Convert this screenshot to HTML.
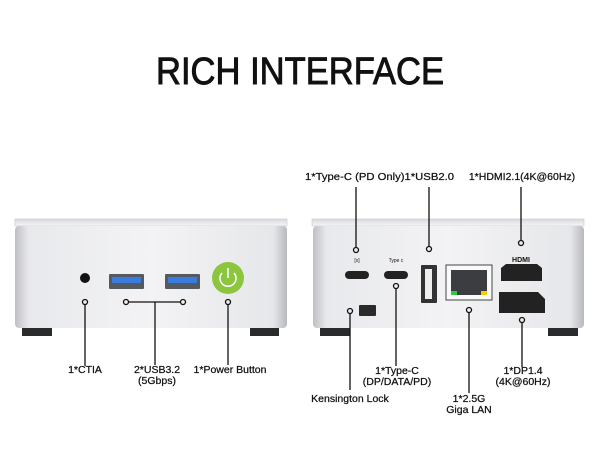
<!DOCTYPE html>
<html><head><style>body{margin:0;background:#fff}svg{display:block}text{font-family:"Liberation Sans",sans-serif;fill:#111}</style></head><body>
<svg width="600" height="450" xmlns="http://www.w3.org/2000/svg">
<defs>
<linearGradient id="b" x1="0" x2="1" y1="0" y2="0"><stop offset="0" stop-color="#bfc0c4"/><stop offset=".05" stop-color="#e8e9ec"/><stop offset=".5" stop-color="#f3f3f5"/><stop offset=".95" stop-color="#e6e7ea"/><stop offset="1" stop-color="#b8b9bd"/></linearGradient>
<linearGradient id="t" x1="0" x2="0" y1="0" y2="1"><stop offset="0" stop-color="#d8d9dc"/><stop offset="1" stop-color="#f6f6f7"/></linearGradient>
</defs>
<text x="300" y="84" font-size="38" text-anchor="middle" textLength="288" lengthAdjust="spacingAndGlyphs" stroke="#111" stroke-width="0.9">RICH INTERFACE</text>
<!-- left device -->
<rect x="15" y="219" width="272" height="7" fill="url(#t)" stroke="#c8c9cc" stroke-width=".6"/>
<rect x="15" y="226" width="272" height="102" rx="4" fill="url(#b)"/>
<rect x="22" y="328" width="30" height="8" fill="#2a2b2d"/><rect x="250" y="328" width="29" height="8" fill="#2a2b2d"/>
<circle cx="85" cy="278" r="5" fill="#111"/>
<rect x="109" y="274" width="35" height="15" rx="1" fill="#555a60"/><rect x="112" y="277" width="29" height="6" fill="#3a7be0"/>
<rect x="165" y="274" width="35" height="15" rx="1" fill="#555a60"/><rect x="168" y="277" width="29" height="6" fill="#3a7be0"/>
<circle cx="228" cy="278" r="16" fill="#8cc63f"/>
<path d="M222 273 a8 8 0 1 0 12 0" fill="none" stroke="#fff" stroke-width="1.5"/><line x1="228" y1="268" x2="228" y2="278" stroke="#fff" stroke-width="1.5"/>
<g stroke="#111" stroke-width="1.3" fill="none">
<circle cx="85" cy="302" r="2.5"/><circle cx="126" cy="302" r="2.5"/><circle cx="183" cy="302" r="2.5"/><circle cx="228" cy="302" r="2.5"/>
<line x1="85" y1="305" x2="85" y2="366"/><line x1="129" y1="302" x2="180" y2="302"/><line x1="155" y1="302" x2="155" y2="365"/><line x1="228" y1="305" x2="228" y2="365"/>
</g>
<g stroke="#111" stroke-width="0.25">
<text x="85" y="373" font-size="10.5" text-anchor="middle">1*CTIA</text>
<text x="157" y="373" font-size="10.5" text-anchor="middle">2*USB3.2</text>
<text x="157" y="384" font-size="10.5" text-anchor="middle">(5Gbps)</text>
<text x="230" y="373" font-size="10.5" text-anchor="middle">1*Power Button</text>
</g>
<!-- right device -->
<rect x="312" y="219" width="272" height="7" fill="url(#t)" stroke="#c8c9cc" stroke-width=".6"/>
<rect x="313" y="226" width="271" height="102" rx="4" fill="url(#b)"/>
<rect x="320" y="328" width="30" height="8" fill="#2a2b2d"/><rect x="548" y="328" width="30" height="8" fill="#2a2b2d"/>
<rect x="345" y="271" width="24" height="8" rx="4" fill="#222"/>
<rect x="384" y="271" width="24" height="8" rx="4" fill="#222"/>
<rect x="421" y="265" width="16" height="38" rx="1" fill="#333"/><rect x="425" y="269" width="7" height="30" fill="#eee"/>
<rect x="446" y="265" width="46" height="35" fill="#fafafa" stroke="#444"/><rect x="451" y="270" width="36" height="25" fill="#3b3d40"/>
<rect x="451" y="291" width="6" height="4" fill="#2ecc40"/><rect x="481" y="291" width="6" height="4" fill="#f5d000"/>
<path d="M501 268 l5 -4 h31 l5 4 v13 h-41z" fill="#222"/>
<path d="M499 292 h39 l7 7 v14 h-46z" fill="#222"/>
<rect x="359" y="305" width="17" height="11" rx="1" fill="#2a2a2a"/>
<text x="521" y="262" font-size="7" font-weight="bold" text-anchor="middle" fill="#333">HDMI</text>
<text x="357" y="262" font-size="5" text-anchor="middle" fill="#888">[x]</text>
<text x="396" y="262" font-size="5" text-anchor="middle" fill="#888">Type c</text>
<g stroke="#111" stroke-width="1.3" fill="none">
<circle cx="356" cy="250" r="2.5"/><line x1="356" y1="187" x2="356" y2="247"/>
<circle cx="429" cy="249" r="2.5"/><line x1="429" y1="187" x2="429" y2="246"/>
<circle cx="521" cy="243" r="2.5"/><line x1="521" y1="187" x2="521" y2="240"/>
<circle cx="396" cy="286" r="2.5"/><line x1="396" y1="289" x2="396" y2="366"/>
<circle cx="350" cy="311" r="2.5"/><line x1="350" y1="314" x2="350" y2="390"/>
<circle cx="469" cy="310" r="2.5"/><line x1="469" y1="313" x2="469" y2="393"/>
<circle cx="522" cy="320" r="2.5"/><line x1="522" y1="323" x2="522" y2="367"/>
</g>
<g stroke="#111" stroke-width="0.25">
<text x="305" y="180" font-size="10.5" textLength="149" lengthAdjust="spacingAndGlyphs">1*Type-C (PD Only)1*USB2.0</text>
<text x="522" y="180" font-size="10.5" text-anchor="middle">1*HDMI2.1(4K@60Hz)</text>
<text x="397" y="374" font-size="10.5" text-anchor="middle">1*Type-C</text>
<text x="397" y="385" font-size="10.5" text-anchor="middle">(DP/DATA/PD)</text>
<text x="350" y="402" font-size="10.5" text-anchor="middle">Kensington Lock</text>
<text x="469" y="402" font-size="10.5" text-anchor="middle">1*2.5G</text>
<text x="469" y="413" font-size="10.5" text-anchor="middle">Giga LAN</text>
<text x="523" y="374" font-size="10.5" text-anchor="middle">1*DP1.4</text>
<text x="523" y="385" font-size="10.5" text-anchor="middle">(4K@60Hz)</text>
</g>
</svg>
</body></html>
